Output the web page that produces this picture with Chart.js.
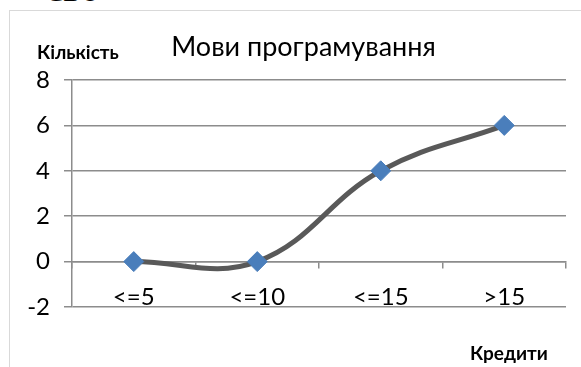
<!DOCTYPE html>
<html>
<head>
<meta charset="utf-8">
<script src="https://cdn.jsdelivr.net/npm/chart.js@4"></script>
<style>
  html, body { margin: 0; padding: 0; background: #fff; overflow: hidden; }
  #wrap { position: relative; width: 581px; height: 367px; overflow: hidden; }
  #frame { position: absolute; left: 9px; top: 10px; width: 620px; height: 420px; border: 1.5px solid #d9d9d9; box-sizing: border-box; }
  canvas { position: absolute; left: 0; top: 0; }
  .lbl { position: absolute; font-family: Lato, sans-serif; font-weight: bold; font-size: 19px; line-height: 23px; color: #000; white-space: nowrap; }
  #title { position: absolute; left: 0; top: 30px; width: 607px; text-align: center; font-family: Lato, sans-serif; font-size: 27px; line-height: 32px; color: #000; white-space: nowrap; }
  #cut { position: absolute; left: 46px; top: -20px; font-family: "Liberation Serif", serif; font-size: 26px; line-height: 26px; color: #000; }
</style>
</head>
<body>
<div id="wrap">
  <div id="cut">СВО</div>
  <div id="frame"></div>
  <canvas id="chart" width="581" height="367"></canvas>
  <div id="title">Мови програмування</div>
  <div class="lbl" style="left:37px; top:40px;">Кількість</div>
  <div class="lbl" style="left:470px; top:341px;">Кредити</div>
</div>
<script>
// Data
const categories = ["<=5", "<=10", "<=15", ">15"];
const counts = [0, 0, 4, 6];
const yTicks = [-2, 0, 2, 4, 6, 8];

const axisGray = "#8c8c8c";
const font = { family: "Lato", size: 24 };

const config = {
  type: "line",
  data: {
    labels: categories,
    datasets: [
      {
        data: counts,
        borderColor: "#595959",
        borderWidth: 5,
        tension: 0.4,
        fill: false,
        pointStyle: "rectRot",
        pointRadius: 10,
        pointHoverRadius: 10,
        pointBackgroundColor: "#4a7ebb",
        pointBorderColor: "#4a7ebb",
        pointBorderWidth: 1,
      },
    ],
  },
  options: {
    responsive: false,
    devicePixelRatio: 1,
    animation: false,
    events: [],
    layout: {
      padding: { left: 16, right: 15, top: 80, bottom: 60 },
    },
    plugins: {
      legend: { display: false },
      tooltip: { enabled: false },
      title: { display: false },
    },
    scales: {
      y: {
        min: yTicks[0],
        max: yTicks[yTicks.length - 1],
        afterBuildTicks: (scale) => {
          scale.ticks = yTicks.map((v) => ({ value: v }));
        },
        // fixed width so the plot starts where the reference's does
        afterFit: (scale) => {
          scale.width = 56;
        },
        ticks: { color: "#000", font: font, padding: 14 },
        grid: { color: axisGray, lineWidth: 1.5, tickLength: 8 },
        border: { color: axisGray, width: 1.5 },
      },
      x: {
        type: "category",
        offset: true,
        position: { y: 0 },
        ticks: { color: "#000", font: font, padding: 15, maxRotation: 0, autoSkip: false },
        grid: { drawOnChartArea: false, offset: true, tickLength: 6, color: axisGray, lineWidth: 1.5 },
        border: { color: axisGray, width: 1.5 },
      },
    },
  },
};

new Chart(document.getElementById("chart"), config);
</script>
</body>
</html>
